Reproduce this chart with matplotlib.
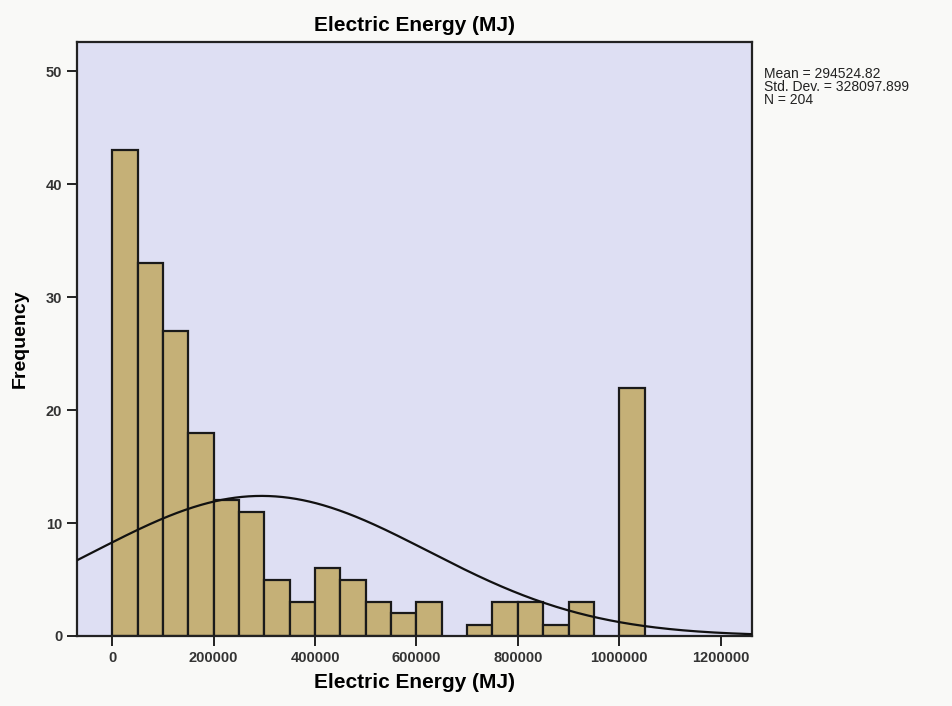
import numpy as np
import matplotlib
matplotlib.use("Agg")
import matplotlib.pyplot as plt

plt.rcParams['font.family'] = ['Liberation Sans', 'DejaVu Sans']

bin_edges = [0, 50000, 100000, 150000, 200000, 250000, 300000, 350000, 400000,
             450000, 500000, 550000, 600000, 650000, 700000, 750000, 800000,
             850000, 900000, 950000, 1000000, 1050000]
counts = [43, 33, 27, 18, 12, 11, 5, 3, 6, 5, 3, 2, 3, 0, 1, 3, 3, 1, 3, 0, 22]
mean_val = 294524.82
std_val = 328097.899
n_val = 204
x_ticks = [0, 200000, 400000, 600000, 800000, 1000000, 1200000]
y_ticks = [0, 10, 20, 30, 40, 50]

fig = plt.figure(figsize=(9.52, 7.06), dpi=100)
fig.patch.set_facecolor('#f9f9f7')
ax = fig.add_axes([0.0806, 0.0992, 0.7094, 0.8413])
ax.set_facecolor('#dedff3')

lefts = np.array(bin_edges[:-1])
widths = np.diff(bin_edges)
for l, w, c in zip(lefts, widths, counts):
    if c > 0:
        ax.bar(l, c, width=w, align='edge', color='#c5b077',
               edgecolor='#1a1a1a', linewidth=1.6, zorder=2)

xlim = (-70000, 1262000)
xs = np.linspace(xlim[0], xlim[1], 500)
bw = bin_edges[1] - bin_edges[0]
ys = n_val * bw / (std_val * np.sqrt(2 * np.pi)) * np.exp(-0.5 * ((xs - mean_val) / std_val) ** 2)
ax.plot(xs, ys, color='#111111', linewidth=1.6, zorder=3)

ax.set_xlim(*xlim)
ax.set_ylim(0, 52.6)
ax.set_xticks(x_ticks)
ax.set_xticklabels([str(t) for t in x_ticks], fontsize=10.5, fontweight='bold', color='#333333')
ax.set_yticks(y_ticks)
ax.set_yticklabels([str(t) for t in y_ticks], fontsize=10.5, fontweight='bold', color='#333333')
ax.tick_params(direction='out', length=7, width=1.4, color='#222222')
for s in ax.spines.values():
    s.set_linewidth(1.6)
    s.set_color('#222222')

ax.set_title('Electric Energy (MJ)', fontsize=15, fontweight='bold', pad=8,
             fontfamily=['Liberation Sans Narrow', 'Liberation Sans'])
ax.set_xlabel('Electric Energy (MJ)', fontsize=15, fontweight='bold', labelpad=6)
ax.set_ylabel('Frequency', fontsize=14, fontweight='bold', labelpad=12)

fig.text(0.803, 0.905, 'Mean = %.2f\nStd. Dev. = %.3f\nN = %d' % (mean_val, std_val, n_val),
         fontsize=10, va='top', ha='left', linespacing=0.9, color='#222222')

fig.savefig('out.png', dpi=100, facecolor=fig.get_facecolor())
